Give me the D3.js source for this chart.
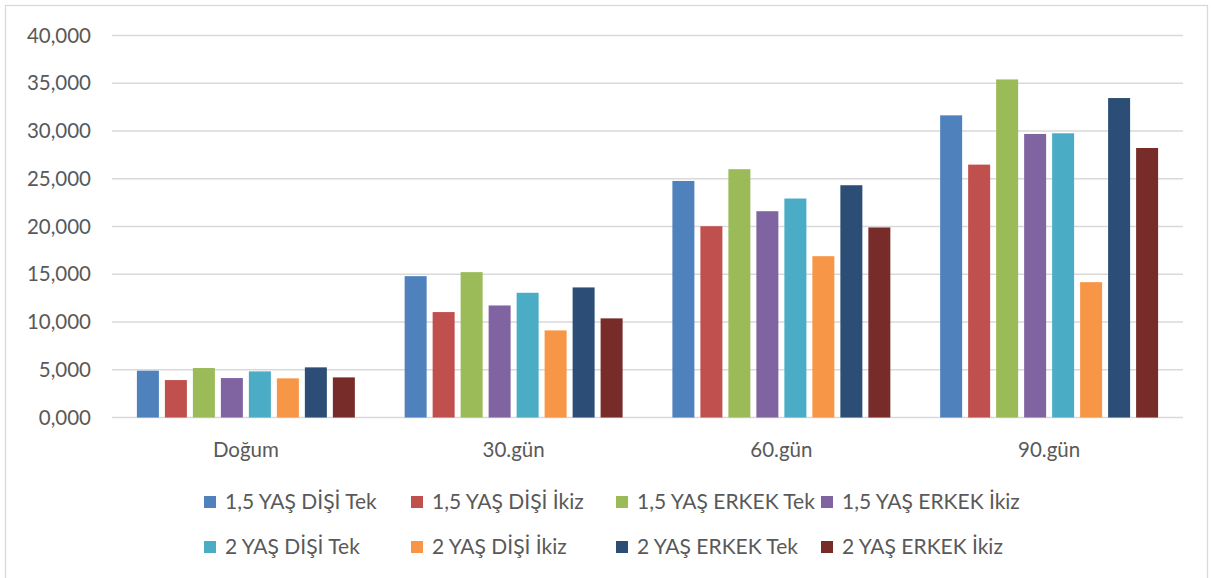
<!DOCTYPE html>
<html>
<head>
<meta charset="utf-8">
<script src="https://cdn.jsdelivr.net/npm/d3@7"></script>
<style>
  html, body { margin: 0; padding: 0; background: #fff; }
  svg { display: block; }
  text { font-family: Lato, "Open Sans", sans-serif; fill: #595959; }
</style>
</head>
<body>
<svg id="chart" width="1211" height="578"></svg>
<script>
// Categories (measurement days) and series
const categories = ["Doğum", "30.gün", "60.gün", "90.gün"];
const seriesNames = [
  "1,5 YAŞ DİŞİ Tek", "1,5 YAŞ DİŞİ İkiz", "1,5 YAŞ ERKEK Tek", "1,5 YAŞ ERKEK İkiz",
  "2 YAŞ DİŞİ Tek", "2 YAŞ DİŞİ İkiz", "2 YAŞ ERKEK Tek", "2 YAŞ ERKEK İkiz"
];
const seriesColors = ["#4F81BD", "#C0504D", "#9BBB59", "#8064A2", "#4BACC6", "#F79646", "#2C4D75", "#772C2A"];

// Values per series, in the order of categories
const dis15Tek   = [4900, 14800, 24770, 31640];
const dis15Ikiz  = [3920, 11040, 20030, 26480];
const erk15Tek   = [5180, 15220, 26000, 35400];
const erk15Ikiz  = [4130, 11730, 21600, 29690];
const dis2Tek    = [4830, 13060, 22930, 29760];
const dis2Ikiz   = [4100,  9120, 16890, 14170];
const erk2Tek    = [5250, 13620, 24320, 33450];
const erk2Ikiz   = [4200, 10380, 19900, 28220];
const seriesValues = [dis15Tek, dis15Ikiz, erk15Tek, erk15Ikiz, dis2Tek, dis2Ikiz, erk2Tek, erk2Ikiz];

const yTicks = [0, 5000, 10000, 15000, 20000, 25000, 30000, 35000, 40000];

const svg = d3.select("#chart");
const W = 1211, H = 578;

// Chart area border
svg.append("rect")
  .attr("x", 5.5).attr("y", 5.5)
  .attr("width", W - 9).attr("height", H + 4)
  .attr("fill", "#fff").attr("stroke", "#d9d9d9").attr("stroke-width", 1.3);

const plot = { left: 112, right: 1183, top: 35.5, bottom: 417.5 };

const y = d3.scaleLinear().domain([0, 40000]).range([plot.bottom, plot.top]);
const x0 = d3.scaleBand().domain(categories).range([plot.left, plot.right]).paddingInner(0).paddingOuter(0);
const groupInset = 24.9;
const x1 = d3.scaleBand().domain(d3.range(seriesNames.length))
  .range([groupInset, x0.bandwidth() - groupInset])
  .paddingInner(6 / 28).paddingOuter(0);

// Gridlines
svg.append("g").selectAll("line").data(yTicks).join("line")
  .attr("x1", plot.left).attr("x2", plot.right)
  .attr("y1", d => y(d)).attr("y2", d => y(d))
  .attr("stroke", "#d9d9d9").attr("stroke-width", 1.3);

// Y axis labels, shown as thousands with three decimals (e.g. 5,000)
svg.append("g").selectAll("text").data(yTicks).join("text")
  .attr("x", 91).attr("y", d => y(d))
  .attr("dy", "0.35em")
  .attr("text-anchor", "end")
  .attr("font-size", 20.5)
  .text(d => (d / 1000).toFixed(3).replace(".", ","));

// Bars
const groups = svg.append("g").selectAll("g").data(categories).join("g")
  .attr("transform", c => `translate(${x0(c)},0)`);

groups.selectAll("rect")
  .data((c, ci) => seriesValues.map((vals, si) => ({ si, v: vals[ci] })))
  .join("rect")
  .attr("x", d => x1(d.si))
  .attr("width", x1.bandwidth())
  .attr("y", d => y(d.v))
  .attr("height", d => y(0) - y(d.v))
  .attr("fill", d => seriesColors[d.si]);

// Category labels
svg.append("g").selectAll("text").data(categories).join("text")
  .attr("x", c => x0(c) + x0.bandwidth() / 2)
  .attr("y", 450)
  .attr("dy", "0.35em")
  .attr("text-anchor", "middle")
  .attr("font-size", 20.5)
  .text(c => c);

// Legend (two rows of four)
const legendX = [204, 411, 616, 821, 204, 411, 616, 821];
const legendY = [502, 502, 502, 502, 547, 547, 547, 547];
const legend = svg.append("g").selectAll("g").data(seriesNames).join("g")
  .attr("transform", (d, i) => `translate(${legendX[i]},${legendY[i]})`);
legend.append("rect")
  .attr("x", 0).attr("y", -6).attr("width", 12).attr("height", 12)
  .attr("fill", (d, i) => seriesColors[i]);
legend.append("text")
  .attr("x", 21).attr("y", 0).attr("dy", "0.35em")
  .attr("font-size", 21)
  .text(d => d);
</script>
</body>
</html>
